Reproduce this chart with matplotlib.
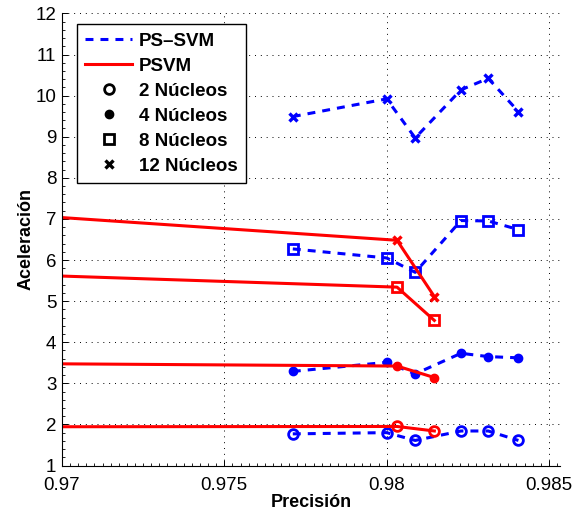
import matplotlib
matplotlib.use("Agg")
import matplotlib.pyplot as plt
from matplotlib.lines import Line2D
from matplotlib.ticker import MultipleLocator

plt.rcParams["font.family"] = ["Liberation Sans", "DejaVu Sans"]

# PS-SVM: precision on x, speed-up on y
ps_svm_prec = [0.97711, 0.98000, 0.98088, 0.98229, 0.98313, 0.98406]
ps_svm_2 = [1.77, 1.80, 1.61, 1.84, 1.84, 1.61]
ps_svm_4 = [3.29, 3.51, 3.23, 3.73, 3.65, 3.62]
ps_svm_8 = [6.27, 6.05, 5.70, 6.96, 6.95, 6.74]
ps_svm_12 = [9.49, 9.92, 8.97, 10.14, 10.42, 9.61]

# PSVM (first point lies left of the visible range)
psvm_prec = [0.9650, 0.98032, 0.98147]
psvm_2 = [1.94, 1.95, 1.84]
psvm_4 = [3.50, 3.42, 3.14]
psvm_8 = [5.74, 5.34, 4.53]
psvm_12 = [7.30, 6.48, 5.11]

cores = ["2 Núcleos", "4 Núcleos", "8 Núcleos", "12 Núcleos"]
markers = {
    "2 Núcleos": dict(marker="o", ms=7, mew=2.0, mfc="none"),
    "4 Núcleos": dict(marker="o", ms=6, mew=1.0),
    "8 Núcleos": dict(marker="s", ms=7, mew=2.0, mfc="none"),
    "12 Núcleos": dict(marker="x", ms=6, mew=2.4),
}

fig = plt.figure(figsize=(5.76, 5.12), dpi=100)
ax = fig.add_axes([0.1076, 0.0908, 0.8646, 0.883])

for name, ys in zip(cores, [ps_svm_2, ps_svm_4, ps_svm_8, ps_svm_12]):
    ax.plot(ps_svm_prec, ys, color="blue", lw=2.2, dashes=(2.6, 2.3),
            mec="blue", mfc=markers[name].get("mfc", "blue"),
            **{k: v for k, v in markers[name].items() if k != "mfc"})

for name, ys in zip(cores, [psvm_2, psvm_4, psvm_8, psvm_12]):
    ax.plot(psvm_prec, ys, color="red", lw=2.2, mec="red",
            mfc=markers[name].get("mfc", "red"),
            **{k: v for k, v in markers[name].items() if k != "mfc"})

ax.set_xlim(0.97, 0.98534)
ax.set_ylim(1, 12)
ax.set_xticks([0.97, 0.975, 0.98, 0.985])
ax.set_xticklabels(["0.97", "0.975", "0.98", "0.985"])
ax.set_yticks(range(1, 13))
ax.xaxis.set_minor_locator(MultipleLocator(0.00025))
ax.yaxis.set_minor_locator(MultipleLocator(0.2))
ax.tick_params(which="both", direction="in", labelsize=13.5, colors="black")
ax.tick_params(which="major", length=4, width=0.7)
ax.tick_params(which="minor", length=2, width=0.6)
ax.tick_params(axis="x", pad=8)
ax.tick_params(axis="y", pad=4)
ax.grid(True, which="major", linestyle=(0, (1, 5)), color="black", lw=0.7)
for side in ("top", "right"):
    ax.spines[side].set_visible(False)
for side in ("left", "bottom"):
    ax.spines[side].set_linewidth(0.8)

ax.set_xlabel("Precisión", fontsize=13, fontweight="bold", labelpad=0)
ax.set_ylabel("Aceleración", fontsize=13, fontweight="bold", labelpad=1)

handles = [
    Line2D([], [], color="blue", lw=2.2, dashes=(2.6, 2.3)),
    Line2D([], [], color="red", lw=2.2),
]
for name in cores:
    m = markers[name]
    handles.append(Line2D([], [], ls="none", color="black", mec="black",
                          mfc=m.get("mfc", "black"),
                          **{k: v for k, v in m.items() if k != "mfc"}))
leg = ax.legend(handles, ["PS\u2013SVM", "PSVM"] + cores,
                loc="upper left", bbox_to_anchor=(0.0295, 0.976),
                borderaxespad=0, fancybox=False, framealpha=1,
                edgecolor="black", handlelength=2.5, handletextpad=0.35,
                labelspacing=0.42, borderpad=0.45,
                prop=dict(size=13.5, weight="bold"))
leg.get_frame().set_linewidth(1.0)

fig.savefig("out.png", dpi=100)
